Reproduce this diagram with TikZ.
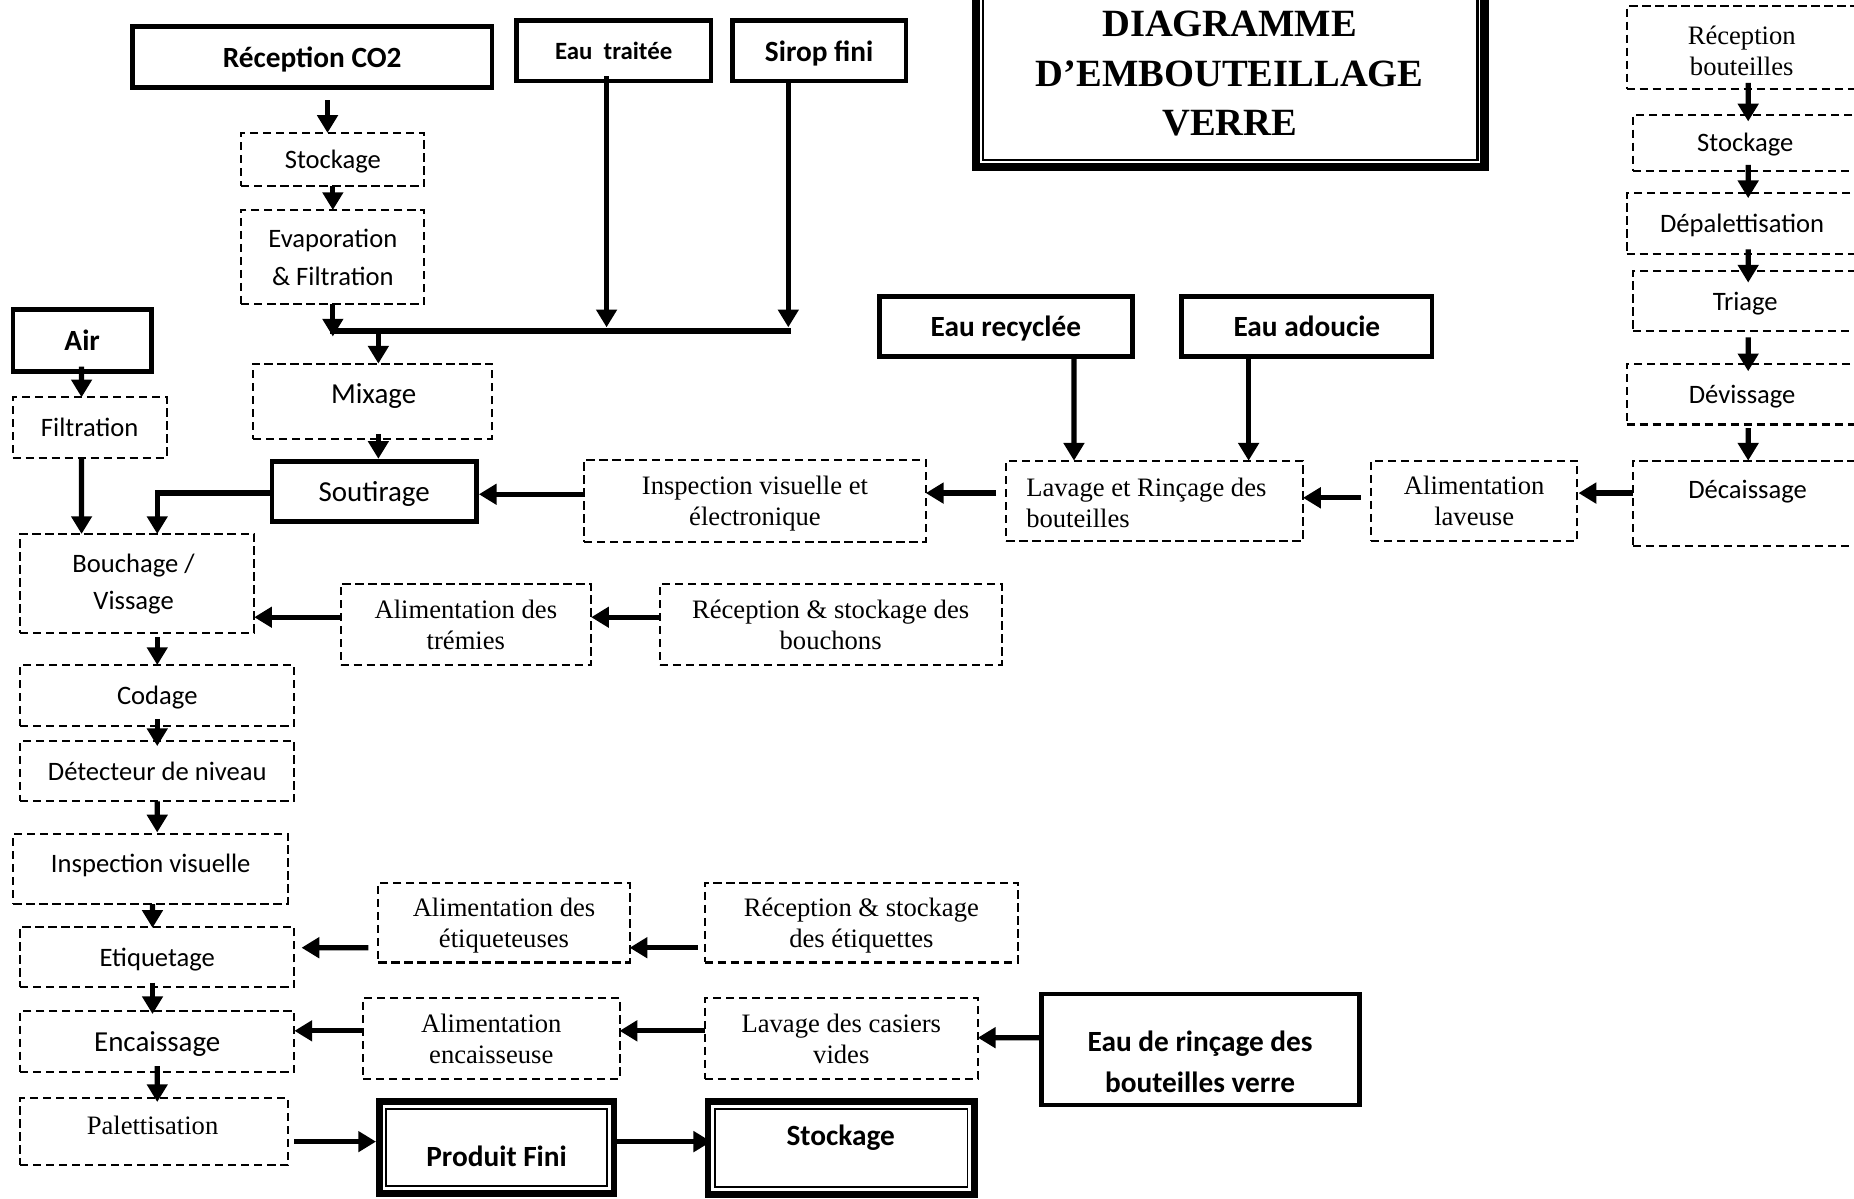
\documentclass[tikz,border=0pt]{standalone}
\usepackage{fontspec}
\setmainfont{Liberation Serif}
\newfontfamily\calibfont{Carlito}
\usetikzlibrary{arrows.meta,calc}

% text styles
\newcommand\fcal{\calibfont\fontsize{11.25}{16}\selectfont}
\newcommand\fcalbig{\calibfont\fontsize{12.25}{16}\selectfont}
\newcommand\fcalbold{\calibfont\bfseries\fontsize{12.4}{17.5}\selectfont}
\newcommand\fcalboldsm{\calibfont\bfseries\fontsize{10.5}{12}\selectfont}
\newcommand\ftim{\fontsize{11.25}{13}\selectfont}
\newcommand\fttl{\bfseries\fontsize{16.3}{21}\selectfont}

\tikzset{
  every node/.style={inner sep=0pt, outer sep=0pt, align=center, text depth=0pt},
  % a box given by its corners: left, top, right, bottom
  area/.style n args={4}{
    minimum width={((#3)-(#1))*0.5pt},
    minimum height={((#4)-(#2))*0.5pt},
    at={({((#1)+(#3))/2},{((#2)+(#4))/2})}},
  dbox/.style n args={4}{draw, line width=0.85pt, dash pattern=on 3.5pt off 2pt, area={#1}{#2}{#3}{#4}},
  sbox/.style n args={4}{draw, line width=2pt, area={#1}{#2}{#3}{#4}},
  tbox/.style n args={4}{draw, line width=2.8pt, area={#1}{#2}{#3}{#4}},
  ttlbox/.style n args={4}{draw, line width=3.5pt, area={#1}{#2}{#3}{#4}},
  innerline/.style={line width=0.8pt},
  flow/.style={line width=2.2pt, -{Triangle[length=7.5pt,width=8.5pt]}},
  joinline/.style={line width=2.4pt},
}

\begin{document}
\begin{tikzpicture}[x=0.5pt,y=-0.5pt]
\useasboundingbox (0,0) rectangle (1568,1014);
\fill[white] (0,0) rectangle (1568,1014);
\clip (0,0) rectangle (1568,1014);

% ---------- title ----------
\node[ttlbox={825.5}{-20}{1255.5}{141.5}] (ttl) {};
\draw[line width=1pt] ($(ttl.north west)+(6,6)$) rectangle ($(ttl.south east)+(-6,-6)$);
\node[font=\fttl] (ttl-t) at (1040,62) {DIAGRAMME\\D’EMBOUTEILLAGE\\VERRE};

% ---------- syrup / CO2 line ----------
\node[sbox={112}{22.5}{416}{74}, font=\fcalbold] (co2) {Réception CO2};
\node[sbox={436.7}{17.5}{601.3}{68.5}, font=\fcalboldsm] (eaut) {Eau~~traitée};
\node[sbox={619.4}{17.5}{766.2}{68.5}, font=\fcalbold] (sirop) {Sirop fini};
\node[dbox={204}{112.4}{359}{157.6}, font=\fcal] (stk) {Stockage};
\node[dbox={204}{177.6}{359}{257}, font=\fcal] (evap) {Evaporation\\\& Filtration};
\node[dbox={214}{307.5}{416}{371}] (mix) {};
\node[font=\fcalbig] (mix-t) at (316,332.5) {Mixage};
\node[sbox={230}{390}{403}{441}, font=\fcalbig] (sout) {Soutirage};

% ---------- air ----------
\node[sbox={11}{262}{128}{314}, font=\fcalbold] (air) {Air};
\node[dbox={10.7}{336}{141}{387}, font=\fcal] (filt) {Filtration};

% ---------- bottle washing ----------
\node[dbox={494}{389}{783}{458}, font=\ftim] (insp1) {Inspection visuelle et\\électronique};
\node[dbox={851}{389.6}{1102}{457.6}] (lav) {};
\node[font=\ftim, anchor=west, align=left] (lav-t) at (868,425) {Lavage et Rinçage des\\bouteilles};
\node[dbox={1159.5}{389.6}{1334}{457.6}, font=\ftim] (alav) {Alimentation\\laveuse};
\node[sbox={744}{251}{957.5}{301.6}, font=\fcalbold] (eaur) {Eau recyclée};
\node[sbox={999.5}{251}{1211}{301.6}, font=\fcalbold] (eaua) {Eau adoucie};

% ---------- bottle reception column ----------
\node[dbox={1375.7}{5.4}{1571}{75}] (recb) {};
\node[font=\ftim] (recb-t) at (1473,43) {Réception\\bouteilles};
\node[dbox={1381}{97}{1571}{144.4}, font=\fcal] (stk2) {Stockage};
\node[dbox={1375.7}{163}{1571}{214.5}, font=\fcal] (depal) {Dépalettisation};
\node[dbox={1381}{229}{1571}{280}, font=\fcal] (tri) {Triage};
\node[dbox={1375.7}{307.5}{1571}{359}, font=\fcal] (dev) {Dévissage};
\node[dbox={1381}{389.6}{1571}{462}] (decai) {};
\node[font=\fcal] (decai-t) at (1478,414) {Décaissage};

% ---------- main line ----------
\node[dbox={17}{451.6}{215}{535}] (bouch) {};
\node[font=\fcal] (bouch-t) at (113,492) {Bouchage /\\Vissage};
\node[dbox={288}{494}{500}{562.5}, font=\ftim] (trem) {Alimentation des\\trémies};
\node[dbox={558}{494}{847}{562.5}, font=\ftim] (rbouch) {Réception \& stockage des\\bouchons};
\node[dbox={17}{562.4}{249}{613.7}, font=\fcal] (cod) {Codage};
\node[dbox={17}{626.5}{249}{677.8}, font=\fcal] (det) {Détecteur de niveau};
\node[dbox={11.3}{705}{243.6}{764.6}] (insp2) {};
\node[font=\fcal] (insp2-t) at (127.5,730) {Inspection visuelle};
\node[dbox={17}{784}{249}{835}, font=\fcal] (etiq) {Etiquetage};
\node[dbox={320}{746.6}{532.5}{814}, font=\ftim] (aetiq) {Alimentation des\\étiqueteuses};
\node[dbox={596}{746.6}{861}{814}, font=\ftim] (retiq) {Réception \& stockage\\des étiquettes};
\node[dbox={17}{855}{249}{906.6}, font=\fcalbig] (encai) {Encaissage};
\node[dbox={307}{844}{524}{912.6}, font=\ftim] (aenc) {Alimentation\\encaisseuse};
\node[dbox={596}{844}{827}{912.6}, font=\ftim] (lcas) {Lavage des casiers\\vides};
\node[sbox={881}{840.7}{1150}{934.5}] (rinc) {};
\node[font=\fcalbold] (rinc-t) at (1015,898) {Eau de rinçage des\\bouteilles verre};
\node[dbox={17}{928.6}{243.6}{985.4}] (pal) {};
\node[font=\ftim] (pal-t) at (129,952) {Palettisation};

% ---------- finished product ----------
\node[tbox={320.8}{931.7}{519.2}{1009.2}] (pf) {};
\draw[innerline] ($(pf.north west)+(6,6)$) rectangle ($(pf.south east)+(-6,-6)$);
\node[font=\fcalbold] (pf-t) at (420,978) {Produit Fini};
\node[tbox={598.8}{931.7}{824.2}{1010.2}] (stkf) {};
\draw[innerline] ($(stkf.north west)+(6,6)$) rectangle ($(stkf.south east)+(-6,-6)$);
\node[font=\fcalbold] (stkf-t) at (711,960) {Stockage};

% ---------- junction of the mixing inputs ----------
\coordinate (jw) at (279.5,279.8);
\coordinate (je) at (669,279.8);
\draw[joinline] (jw) -- (je);

% ---------- connectors ----------
\draw[flow] ($(co2.south)+(13,10.6)$) -- ($(stk.north)+(-4.5,0)$);
\draw[flow] (stk.south) -- (evap.north);
\draw[flow] (evap.south) -- ($(evap.south |- jw)+(0,4.8)$);
\draw[flow] ($(eaut.south)+(-6,-4)$) -- ($(eaut.south |- jw)+(-6,-3)$);
\draw[flow] ($(sirop.south)+(-26.1,0)$) -- ($(sirop.south |- jw)+(-26.1,-3)$);
\draw[flow] ($(jw)+(40.5,0)$) -- ($(mix.north)+(5,0)$);
\draw[flow] ($(mix.south)+(5,-4)$) -- ($(sout.north)+(3.5,-2)$);

\draw[flow] ($(air.south)+(-0.5,-4)$) -- ($(filt.north)+(-6.85,0)$);
\draw[flow] ($(filt.south)+(-6.85,0)$) -- ($(bouch.north)+(-47,0)$);
\draw[flow] ($(sout.west)+(0,1.5)$) -| ($(bouch.north)+(17,0)$);

\draw[flow] ($(insp1.west)+(0,-5.5)$) -- ($(sout.east)+(2,2.5)$);
\draw[flow] ($(lav.west)+(-8.5,-6.6)$) -- ($(insp1.east)+(0,-6.5)$);
\draw[flow] ($(alav.west)+(-8.8,-2.6)$) -- ($(lav.east)+(0,-2.6)$);
\draw[flow] ($(decai.west)+(0,-8.8)$) -- ($(alav.east)+(1,-6.6)$);
\draw[flow] ($(eaur.south)+(57.5,0)$) -- ($(lav.north)+(-68.2,0)$);
\draw[flow] ($(eaua.south)+(-49.25,0)$) -- ($(lav.north)+(79.5,0)$);

\draw[flow] ($(recb.south)+(5.15,-5)$) -- ($(stk2.north)+(2.5,5.7)$);
\draw[flow] ($(stk2.south)+(2.5,-5)$) -- ($(depal.north)+(5.15,4.6)$);
\draw[flow] ($(depal.south)+(5.15,-3.5)$) -- ($(tri.north)+(2.5,10)$);
\draw[flow] ($(tri.south)+(2.5,5.4)$) -- ($(dev.north)+(5.15,6.5)$);
\draw[flow] ($(dev.south)+(5.15,3)$) -- ($(decai.north)+(2.5,0)$);

\draw[flow] ($(bouch.south)+(17,4)$) -- (cod.north);
\draw[flow] ($(trem.west)+(0,-6.25)$) -- ($(bouch.east |- trem.west)+(0,-6.25)$);
\draw[flow] ($(rbouch.west)+(0,-6.25)$) -- ($(trem.east)+(0,-6.25)$);
\draw[flow] ($(cod.south)+(0,-5.7)$) -- ($(det.north)+(0,4.5)$);
\draw[flow] (det.south) -- ($(insp2.north)+(5.5,-1)$);
\draw[flow] ($(insp2.south)+(1.5,0)$) -- ($(etiq.north)+(-4,0.7)$);
\draw[flow] ($(aetiq.west)+(-8.5,21.2)$) -- ($(etiq.east)+(6,-8)$);
\draw[flow] ($(retiq.west)+(-6,21.2)$) -- ($(aetiq.east)+(0,21.2)$);
\draw[flow] ($(etiq.south)+(-4,-4)$) -- ($(encai.north)+(-4,2.6)$);
\draw[flow] ($(aenc.west)+(-1,-6.5)$) -- ($(encai.east)+(0,-9)$);
\draw[flow] ($(lcas.west)+(0,-6.5)$) -- ($(aenc.east)+(0,-6.5)$);
\draw[flow] ($(rinc.west)+(-2,-10)$) -- ($(lcas.east)+(0,-0.7)$);
\draw[flow] ($(encai.south)+(0,-5)$) -- ($(pal.north)+(2.7,3.4)$);
\draw[flow] ($(pal.east)+(5.4,8.5)$) -- ($(pf.west)+(-2.8,-4.95)$);
\draw[flow] ($(pf.east)+(2.8,-4.95)$) -- ($(stkf.west)+(2.7,-5.45)$);
\end{tikzpicture}
\end{document}
